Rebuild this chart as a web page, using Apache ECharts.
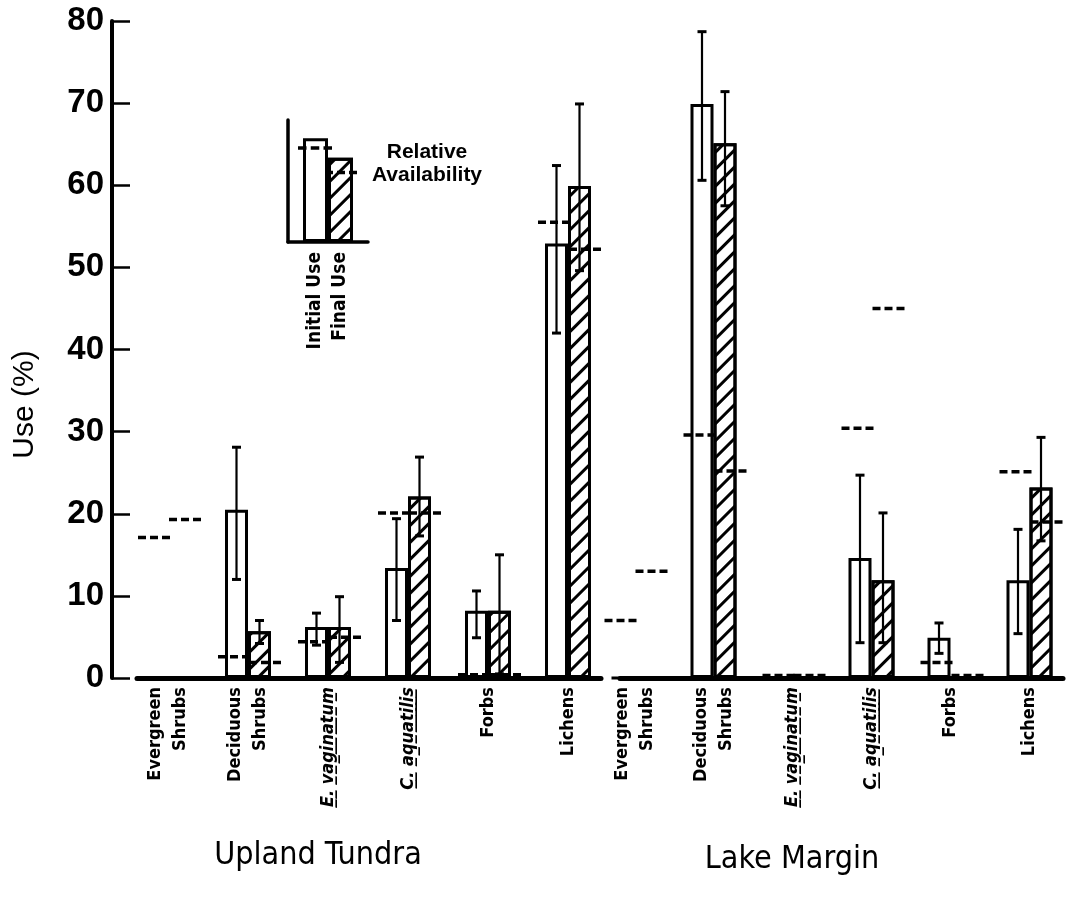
<!DOCTYPE html>
<html>
<head>
<meta charset="utf-8">
<script src="https://cdn.jsdelivr.net/npm/echarts@6/dist/echarts.min.js"></script>
<style>
  html, body { margin: 0; padding: 0; background: #fff; }
  #chart { width: 1069px; height: 898px; }
</style>
</head>
<body>
<div id="chart"></div>
<script>
// Forage categories (same order in both habitats)
const categories = ['Evergreen\nShrubs', 'Deciduous\nShrubs', 'E. vaginatum', 'C. aquatilis', 'Forbs', 'Lichens'];
const italicNames = ['E. vaginatum', 'C. aquatilis'];
const groupNames = ['Upland Tundra', 'Lake Margin'];

// Upland Tundra: use (%), error ranges [low, high], relative availability (%)
const uplandInitial = [0, 20.5, 6.2, 13.4, 8.2, 52.9];
const uplandFinal = [0, 5.7, 6.2, 22.1, 8.2, 59.9];
const uplandInitialErr = [null, [12.0, 28.1], [4.0, 7.9], [7.0, 19.4], [4.9, 10.6], [42.0, 62.4]];
const uplandFinalErr = [null, [4.2, 7.0], [1.9, 9.9], [17.3, 26.9], [0.5, 15.0], [49.6, 69.9]];
const uplandInitialAvail = [17.1, 2.6, 4.4, 20.1, 0.4, 55.5];
const uplandFinalAvail = [19.3, 1.9, 4.95, 20.1, 0.4, 52.2];

// Lake Margin
const lakeInitial = [0, 69.9, 0, 14.6, 4.9, 11.9];
const lakeFinal = [0, 65.1, 0, 11.9, 0, 23.2];
const lakeInitialErr = [null, [60.6, 78.7], null, [4.3, 24.7], [3.0, 6.7], [5.4, 18.1]];
const lakeFinalErr = [null, [57.5, 71.4], null, [4.3, 20.1], null, [16.7, 29.3]];
const lakeInitialAvail = [7.0, 29.6, 0.3, 30.4, 1.9, 25.1];
const lakeFinalAvail = [13.0, 25.2, 0.3, 45.0, 0.3, 19.0];

// Y axis
const yMin = 0, yMax = 80, yStep = 10;

// Key (inset): one sample pair of bars with their availability marks
const keyLabel = ['Initial Use\nFinal Use'];
const keyInitial = [85];
const keyFinal = [69];
const keyInitialAvail = [77];
const keyFinalAvail = [57];

const FONT = "'Liberation Sans', Arial, sans-serif";
const NARROW = "'DejaVu Sans Condensed', 'DejaVu Sans', sans-serif";
const BAR_W = 23;
const BORDER = 3;

const hatch = {
  symbol: 'rect', symbolSize: 1, color: '#000',
  dashArrayX: [1, 0], dashArrayY: [2.5, 8.5], rotation: -Math.PI / 4
};
const dashSymbol = 'path://M0,0H8V3H0Z M12,0H20V3H12Z M24,0H32V3H24Z';

function underline(s) {
  return s.split('').map(c => (c === ' ' ? c : c + '\u0332')).join('');
}

function labelFormatter(v) {
  if (italicNames.indexOf(v) >= 0) return '{it|' + underline(v) + '}';
  return v;
}

function barPair(axis, initial, final, barW) {
  return [
    {
      type: 'bar', xAxisIndex: axis, yAxisIndex: axis, data: initial,
      barWidth: barW, barGap: '0%', z: 2,
      itemStyle: { color: '#fff', borderColor: '#000', borderWidth: BORDER }
    },
    {
      type: 'bar', xAxisIndex: axis, yAxisIndex: axis, data: final,
      barWidth: barW, barGap: '0%', z: 2,
      itemStyle: { color: '#fff', borderColor: '#000', borderWidth: BORDER, decal: hatch }
    }
  ];
}

function errorBars(axis, errs, shift) {
  const data = [];
  errs.forEach((e, i) => { if (e) data.push([i, e[0], e[1]]); });
  return {
    type: 'custom', xAxisIndex: axis, yAxisIndex: axis, z: 5,
    encode: { x: 0, y: [1, 2] },
    data: data,
    renderItem(params, api) {
      const lo = api.coord([api.value(0), api.value(1)]);
      const hi = api.coord([api.value(0), api.value(2)]);
      const x = lo[0] + shift;
      const cap = 4.5;
      return {
        type: 'group',
        children: [
          { type: 'line', shape: { x1: x, y1: lo[1], x2: x, y2: hi[1] }, style: { stroke: '#000', lineWidth: 2.2 } },
          { type: 'line', shape: { x1: x - cap, y1: lo[1], x2: x + cap, y2: lo[1] }, style: { stroke: '#000', lineWidth: 3 } },
          { type: 'line', shape: { x1: x - cap, y1: hi[1], x2: x + cap, y2: hi[1] }, style: { stroke: '#000', lineWidth: 3 } }
        ]
      };
    }
  };
}

function availMarks(axis, values, offset, width) {
  return {
    type: 'scatter', xAxisIndex: axis, yAxisIndex: axis, z: 6,
    data: values,
    symbol: dashSymbol, symbolSize: [width, 3.5], symbolOffset: [offset, 0],
    itemStyle: { color: '#000', opacity: 1 },
    silent: true
  };
}

const catLabel = {
  rotate: 90, margin: 9, color: '#000', fontFamily: NARROW, fontWeight: 'bold',
  fontSize: 18, lineHeight: 25, interval: 0, formatter: labelFormatter,
  rich: { it: { fontFamily: NARROW, fontWeight: 'bold', fontStyle: 'italic', fontSize: 18, color: '#000' } }
};

function categoryAxis(grid) {
  return {
    type: 'category', gridIndex: grid, data: categories,
    axisLine: { show: false }, axisTick: { show: false }, axisLabel: catLabel
  };
}

function baselineAxis(grid) {
  return {
    type: 'value', gridIndex: grid, min: 0, max: 1,
    axisLine: { show: true, onZero: false, lineStyle: { color: '#000', width: 5 } },
    axisTick: { show: false }, axisLabel: { show: false }, splitLine: { show: false }
  };
}

function hiddenY(grid) {
  return { type: 'value', gridIndex: grid, min: yMin, max: yMax, show: false };
}

const chart = echarts.init(document.getElementById('chart'), null, { renderer: 'canvas' });

chart.setOption({
  animation: false,
  backgroundColor: '#fff',
  grid: [
    { left: 128, width: 480, top: 21, bottom: 220 },
    { left: 595, width: 477, top: 21, bottom: 220 },
    { left: 137, width: 464, top: 21, bottom: 220 },
    { left: 620, width: 443, top: 21, bottom: 220 },
    { left: 288, width: 80, top: 120, height: 122 }
  ],
  xAxis: [
    categoryAxis(0),
    categoryAxis(1),
    baselineAxis(2),
    baselineAxis(3),
    {
      type: 'category', gridIndex: 4, data: keyLabel,
      axisLine: { show: true, lineStyle: { color: '#000', width: 3.5 } },
      axisTick: { show: false },
      axisLabel: { rotate: 90, margin: 10, color: '#000', fontFamily: NARROW, fontWeight: 'bold', fontSize: 19, lineHeight: 25 }
    }
  ],
  yAxis: [
    {
      type: 'value', gridIndex: 0, min: yMin, max: yMax, interval: yStep, offset: 16,
      name: 'Use (%)', nameLocation: 'middle', nameGap: 72,
      nameTextStyle: { fontFamily: FONT, fontSize: 30, color: '#000', padding: [0, 110, 0, 0] },
      axisLine: { show: true, lineStyle: { color: '#000', width: 4 } },
      axisTick: { show: true, inside: true, length: 18, lineStyle: { color: '#000', width: 2.5 } },
      axisLabel: { margin: 8, color: '#000', fontFamily: FONT, fontWeight: 'bold', fontSize: 33 },
      splitLine: { show: false }
    },
    hiddenY(1),
    hiddenY(2),
    hiddenY(3),
    {
      type: 'value', gridIndex: 4, min: 0, max: 100,
      axisLine: { show: true, lineStyle: { color: '#000', width: 3.5 } },
      axisTick: { show: false }, axisLabel: { show: false }, splitLine: { show: false }
    }
  ],
  series: [
    ...barPair(0, uplandInitial, uplandFinal, BAR_W),
    errorBars(0, uplandInitialErr, -BAR_W / 2),
    errorBars(0, uplandFinalErr, BAR_W / 2),
    availMarks(0, uplandInitialAvail, -14, 32),
    availMarks(0, uplandFinalAvail, 17, 32),

    ...barPair(1, lakeInitial, lakeFinal, BAR_W),
    errorBars(1, lakeInitialErr, -BAR_W / 2),
    errorBars(1, lakeFinalErr, BAR_W / 2),
    availMarks(1, lakeInitialAvail, -14, 32),
    availMarks(1, lakeFinalAvail, 17, 32),

    ...barPair(4, keyInitial, keyFinal, 25),
    availMarks(4, keyInitialAvail, -13, 34),
    availMarks(4, keyFinalAvail, 13, 32)
  ],
  graphic: [
    {
      type: 'text', x: 427, y: 141,
      style: { text: 'Relative\nAvailability', textAlign: 'center', fill: '#000', font: "bold 21px " + FONT, lineHeight: 23 }
    },
    {
      type: 'text', x: 318, y: 856,
      style: { text: groupNames[0], textAlign: 'center', textVerticalAlign: 'middle', fill: '#000', font: "32px " + NARROW }
    },
    {
      type: 'text', x: 792, y: 860,
      style: { text: groupNames[1], textAlign: 'center', textVerticalAlign: 'middle', fill: '#000', font: "32px " + NARROW }
    }
  ]
});
</script>
</body>
</html>
